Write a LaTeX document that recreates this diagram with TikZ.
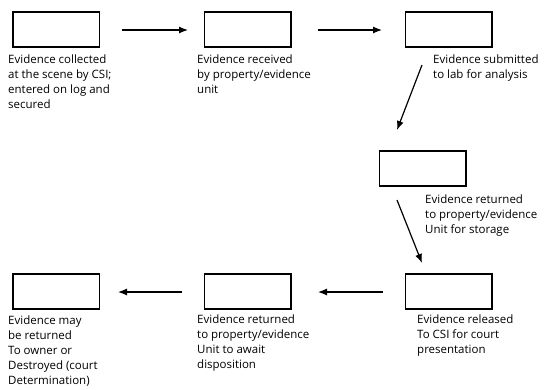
\documentclass[tikz,border=0pt]{standalone}
\usepackage{fontspec}
\setmainfont{Open Sans}
\usetikzlibrary{arrows.meta,positioning}
\tikzset{
    stage/.style={draw, line width=1.5pt, minimum width=86.5pt, minimum height=35pt, inner sep=0pt},
    note/.style={anchor=north west, align=left, inner sep=0pt, font=\fontsize{11.5}{15}\selectfont},
    flow/.style={line width=1.2pt, -{Latex[length=9pt,width=7pt]}}
}

\begin{document}
\begin{tikzpicture}[x=1pt, y=-1pt]
    \useasboundingbox (0,0) rectangle (544,389);
    % stages
    \node[stage] (collect) at (56,29.5) {};
    \node[stage] (receive) at (247.5,29.5) {};
    \node[stage] (submit) at (448.5,29.5) {};
    \node[stage] (store) at (422.5,168.5) {};
    \node[stage] (release) at (448.5,291.5) {};
    \node[stage] (await) at (247.5,291.5) {};
    \node[stage] (dispose) at (56,291.5) {};
    % notes
    \node[note] (collectnote) at (8,55) {Evidence collected\\at the scene by CSI;\\entered on log and\\secured};
    \node[note] (receivenote) at (197,55) {Evidence received\\by property/evidence\\unit};
    \node[note] (submitnote) at (433,55) {Evidence submitted\\to lab for analysis};
    \node[note] (storenote) at (425,195) {Evidence returned\\to property/evidence\\Unit for storage};
    \node[note] (releasenote) at (417,315) {Evidence released\\To CSI for court\\presentation};
    \node[note] (awaitnote) at (197,315) {Evidence returned\\to property/evidence\\Unit to await\\disposition};
    \node[note] (disposenote) at (8,316) {Evidence may\\be returned\\To owner or\\Destroyed (court\\Determination)};
    % arrow ends
    \coordinate (a1s) at (122,30);  \coordinate (a1e) at (188,30);
    \coordinate (a2s) at (318,30);  \coordinate (a2e) at (382,30);
    \coordinate (a3s) at (422,65);  \coordinate (a3e) at (397,130);
    \coordinate (a4s) at (397,200); \coordinate (a4e) at (422,263);
    \coordinate (a5s) at (383,292); \coordinate (a5e) at (318,292);
    \coordinate (a6s) at (182,292); \coordinate (a6e) at (118,292);
    \draw[flow] (a1s) -- (a1e);
    \draw[flow] (a2s) -- (a2e);
    \draw[flow] (a3s) -- (a3e);
    \draw[flow] (a4s) -- (a4e);
    \draw[flow] (a5s) -- (a5e);
    \draw[flow] (a6s) -- (a6e);
\end{tikzpicture}
\end{document}
